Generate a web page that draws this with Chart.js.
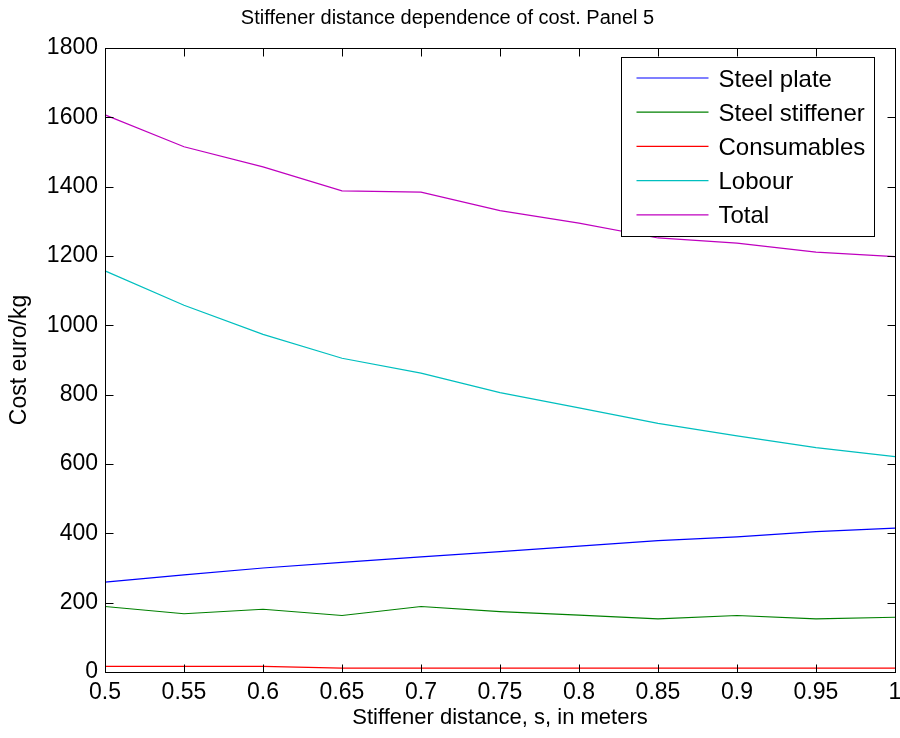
<!DOCTYPE html>
<html>
<head>
<meta charset="utf-8">
<script src="https://cdn.jsdelivr.net/npm/chart.js@4/dist/chart.umd.min.js"></script>
<style>
	html, body { margin: 0; padding: 0; background: #fff; }
	#wrap { width: 900px; height: 738px; }
</style>
</head>
<body>
<div id="wrap"><canvas id="myChart" width="900" height="738"></canvas></div>
<script>
// stiffener distance s (m)
const distances = ['0.5', '0.55', '0.6', '0.65', '0.7', '0.75', '0.8', '0.85', '0.9', '0.95', '1'];
const steelPlate = [259, 280, 300, 316, 332, 347, 363, 379, 390, 405, 415];
const steelStiffener = [189, 168, 181, 163, 189, 174, 164, 153, 163, 153, 158];
const consumables = [16, 16, 16, 11, 11, 11, 11, 11, 11, 11, 11];
const lobour = [1157, 1058, 974, 905, 862, 806, 762, 717, 681, 647, 621];
const total = [1607, 1515, 1457, 1388, 1384, 1331, 1295, 1252, 1237, 1211, 1198];
const yTicks = [0, 200, 400, 600, 800, 1000, 1200, 1400, 1600, 1800];

const FONT = 'Liberation Sans, Arial, Helvetica, sans-serif';
Chart.defaults.font.family = FONT;
Chart.defaults.color = '#000';

function line(label, data, color) {
	return {
		label: label,
		data: data,
		borderColor: color,
		backgroundColor: color,
		borderWidth: 1.2,
		pointRadius: 0,
		fill: false,
		tension: 0
	};
}

// box around the axes with inward ticks (matlab style) + legend inside the plot
const matlabBox = {
	id: 'matlabBox',
	afterDatasetsDraw(chart) {
		const ctx = chart.ctx;
		const a = chart.chartArea;
		const xs = chart.scales.x, ys = chart.scales.y;
		const L = Math.round(a.left) + 0.5, R = Math.round(a.right) + 0.5;
		const T = Math.round(a.top) + 0.5, B = Math.round(a.bottom) + 0.5;
		ctx.save();
		ctx.strokeStyle = '#000';
		ctx.lineWidth = 1;
		ctx.strokeRect(L, T, R - L, B - T);
		ctx.beginPath();
		xs.ticks.forEach((t, i) => {
			const px = Math.round(xs.getPixelForTick(i)) + 0.5;
			ctx.moveTo(px, B); ctx.lineTo(px, B - 8);
			ctx.moveTo(px, T); ctx.lineTo(px, T + 8);
		});
		ys.ticks.forEach((t, i) => {
			const py = Math.round(ys.getPixelForTick(i)) + 0.5;
			ctx.moveTo(L, py); ctx.lineTo(L + 8, py);
			ctx.moveTo(R, py); ctx.lineTo(R - 8, py);
		});
		ctx.stroke();

		// legend
		const bx = Math.round(a.right) - 274 + 0.5, by = Math.round(a.top) + 9 + 0.5;
		const bw = 253, bh = 179;
		ctx.fillStyle = '#fff';
		ctx.fillRect(bx, by, bw, bh);
		ctx.strokeRect(bx, by, bw, bh);
		ctx.font = '24px ' + FONT;
		ctx.textBaseline = 'middle';
		ctx.textAlign = 'left';
		chart.data.datasets.forEach((ds, i) => {
			const y = by + 20.5 + i * 34.2;
			ctx.strokeStyle = ds.borderColor;
			ctx.lineWidth = 1.2;
			ctx.beginPath();
			ctx.moveTo(bx + 15, y);
			ctx.lineTo(bx + 87, y);
			ctx.stroke();
			ctx.fillStyle = '#000';
			ctx.fillText(ds.label, bx + 97, y + 2);
		});
		ctx.restore();
	}
};

let ctx = document.getElementById('myChart').getContext('2d');
let myChart = new Chart(ctx, {
	type: 'line',
	data: {
		labels: distances,
		datasets: [
			line('Steel plate', steelPlate, '#0000ff'),
			line('Steel stiffener', steelStiffener, '#008000'),
			line('Consumables', consumables, '#ff0000'),
			line('Lobour', lobour, '#00bfbf'),
			line('Total', total, '#bf00bf')
		]
	},
	options: {
		responsive: false,
		animation: false,
		layout: { padding: { top: 0, right: 5, bottom: 0, left: 0 } },
		plugins: {
			legend: { display: false },
			tooltip: { enabled: false },
			title: {
				display: true,
				text: 'Stiffener distance dependence of cost. Panel 5',
				font: { size: 20, weight: 'normal' },
				color: '#000',
				padding: { top: 6, bottom: 18 }
			}
		},
		scales: {
			x: {
				type: 'category',
				offset: false,
				grid: { display: false, drawTicks: false },
				border: { display: false },
				ticks: { font: { size: 23 }, padding: 7, autoSkip: false, maxRotation: 0 },
				title: {
					display: true,
					text: 'Stiffener distance, s, in meters',
					font: { size: 22 },
					padding: { top: 0, bottom: 7 }
				},
				afterFit(scale) {
					scale.height = 66;
					scale.paddingLeft = 0;
					scale.paddingRight = 0;
				}
			},
			y: {
				min: 0,
				max: 1800,
				grid: { display: false, drawTicks: false },
				border: { display: false },
				ticks: { font: { size: 23 }, padding: 7, callback: v => String(v) },
				afterBuildTicks(scale) { scale.ticks = yTicks.map(v => ({ value: v })); },
				title: {
					display: true,
					text: 'Cost euro/kg',
					font: { size: 23 },
					padding: { top: 6, bottom: 0 }
				},
				afterFit(scale) {
					scale.width = 105;
					scale.paddingTop = 0;
					scale.paddingBottom = 0;
				}
			}
		}
	},
	plugins: [matlabBox]
});
</script>
</body>
</html>
